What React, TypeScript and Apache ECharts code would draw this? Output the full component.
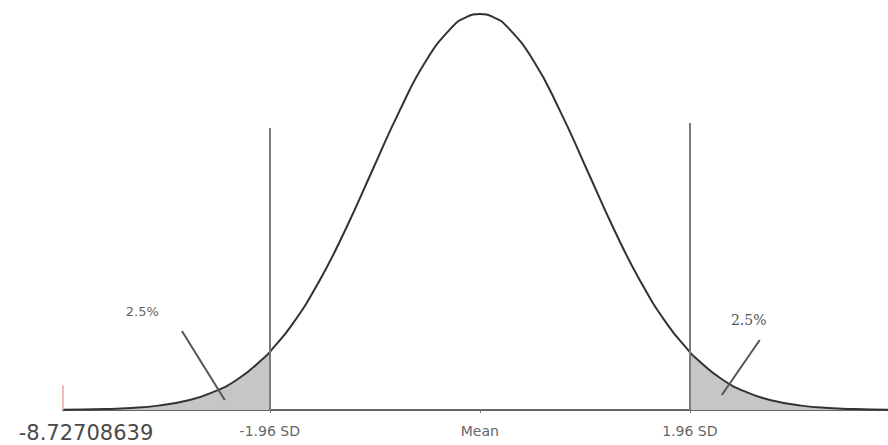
import React, { useEffect, useRef } from "react";
import * as echarts from "echarts";

// z-scores and the density heights
const zValues = [-3.89, -3.5, -3.25, -3, -2.75, -2.5, -2.25, -2, -1.96, -1.75, -1.5, -1.25, -1, -0.75, -0.5, -0.25, -0.125, 0, 0.125, 0.25, 0.5, 0.75, 1, 1.25, 1.5, 1.75, 1.96, 2, 2.25, 2.5, 2.75, 3, 3.25, 3.5, 3.81];
const density = [0.0002, 0.0009, 0.002, 0.0044, 0.0091, 0.0175, 0.0317, 0.054, 0.0584, 0.0863, 0.1295, 0.1826, 0.242, 0.3011, 0.3521, 0.3867, 0.3958, 0.3989, 0.3958, 0.3867, 0.3521, 0.3011, 0.242, 0.1826, 0.1295, 0.0863, 0.0584, 0.054, 0.0317, 0.0175, 0.0091, 0.0044, 0.002, 0.0009, 0.0003];

const tickValues = [-3.89, -1.96, 0, 1.96];
const tickLabels = ["-8.72708639", "-1.96 SD", "Mean", "1.96 SD"];

const leftCut = -1.96;
const rightCut = 1.96;
const leftLineTop = 0.284;
const rightLineTop = 0.289;
const tailLabel = "2.5%";
const leftPointer = [[-2.78, 0.0796], [-2.38, 0.0101]];
const rightPointer = [[2.613, 0.0705], [2.259, 0.0151]];
const leftLabelPos = [-3.15, 0.099];
const rightLabelPos = [2.51, 0.091];

export default function App() {
  const ref = useRef<HTMLDivElement>(null);
  useEffect(() => {
    if (!ref.current) return;
    const chart = echarts.init(ref.current, undefined, { renderer: "svg" });
    const pts = zValues.map((z, i) => [z, density[i]]);
    const leftTail = pts.filter((p) => p[0] <= leftCut);
    const rightTail = pts.filter((p) => p[0] >= rightCut);
    chart.setOption({
      animation: false,
      backgroundColor: "#ffffff",
      grid: { left: 63, right: 0, top: 14, bottom: 35, containLabel: false, outerBoundsMode: "none" },
      xAxis: {
        type: "value",
        min: -3.89,
        max: 3.81,
        splitLine: { show: false },
        axisLine: { show: true, onZero: false, lineStyle: { color: "#666", width: 2 } },
        axisTick: { show: true, customValues: [-1.96, 0, 1.96], length: 3, lineStyle: { color: "#777", width: 1 } },
        axisLabel: {
          customValues: tickValues,
          margin: 12,
          hideOverlap: false,
          formatter: (v: number) => {
            const i = tickValues.findIndex((t) => Math.abs(t - v) < 1e-6);
            if (i === 0) return "{big|" + tickLabels[0] + "}";
            if (i > 0) return "{small|" + tickLabels[i] + "}";
            return "";
          },
          rich: {
            big: { fontSize: 21, color: "#4a4a4a", fontFamily: "DejaVu Sans, sans-serif", padding: [0, 0, 0, 46], lineHeight: 21 },
            small: { fontSize: 14, color: "#666", fontFamily: "DejaVu Sans, sans-serif", lineHeight: 16, padding: [1, 0, 0, 0] },
          },
        },
      },
      yAxis: {
        type: "value",
        min: 0,
        max: 0.3989,
        show: false,
      },
      series: [
        {
          type: "line",
          data: leftTail,
          smooth: true,
          symbol: "none",
          lineStyle: { width: 0 },
          areaStyle: { color: "#c6c6c6", opacity: 1 },
          z: 1,
        },
        {
          type: "line",
          data: rightTail,
          smooth: true,
          symbol: "none",
          lineStyle: { width: 0 },
          areaStyle: { color: "#c6c6c6", opacity: 1 },
          z: 1,
        },
        {
          type: "line",
          data: pts,
          smooth: true,
          symbol: "none",
          lineStyle: { color: "#333", width: 2 },
          z: 3,
          markLine: {
            silent: true,
            symbol: "none",
            label: { show: false },
            lineStyle: { color: "#7a7a7a", width: 2, type: "solid" },
            data: [
              [{ coord: [leftCut, 0] }, { coord: [leftCut, leftLineTop] }],
              [{ coord: [rightCut, 0] }, { coord: [rightCut, rightLineTop] }],
              [
                { coord: leftPointer[0], lineStyle: { color: "#555", width: 2 } },
                { coord: leftPointer[1] },
              ],
              [
                { coord: rightPointer[0], lineStyle: { color: "#555", width: 2 } },
                { coord: rightPointer[1] },
              ],
              [
                { coord: [-3.89, 0], lineStyle: { color: "#f2a3a3", width: 1.5 } },
                { coord: [-3.89, 0.025] },
              ],
            ],
          },
          markPoint: {
            silent: true,
            symbol: "circle",
            symbolSize: 0,
            label: { show: true, color: "#666", fontSize: 13, fontFamily: "DejaVu Sans, sans-serif", formatter: tailLabel },
            data: [
              { coord: leftLabelPos, value: tailLabel },
              { coord: rightLabelPos, value: tailLabel, label: { fontFamily: "DejaVu Serif, serif", fontSize: 14, color: "#555" } },
            ],
          },
        },
      ],
    });
    return () => chart.dispose();
  }, []);
  return <div ref={ref} style={{ position: "fixed", left: 0, top: 0, width: 888, height: 445 }} />;
}
